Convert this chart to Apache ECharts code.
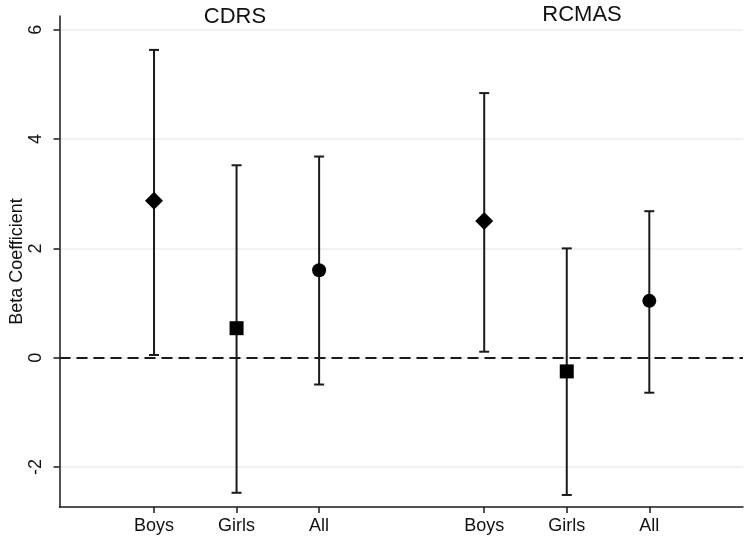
<!DOCTYPE html>
<html>
<head>
<meta charset="utf-8">
<script src="https://cdn.jsdelivr.net/npm/echarts@6/dist/echarts.min.js"></script>
<style>html,body{margin:0;padding:0;background:#fff}#c{width:752px;height:545px}</style>
</head>
<body>
<div id="c"></div>
<script>
// ---- data ----
const groups = ['CDRS', 'RCMAS'];
const categories = ['Boys', 'Girls', 'All'];
const cdrsEst  = [2.87, 0.54, 1.60];
const cdrsLow  = [0.05, -2.47, -0.49];
const cdrsHigh = [5.63, 3.52, 3.68];
const rcmasEst  = [2.50, -0.25, 1.04];
const rcmasLow  = [0.11, -2.51, -0.64];
const rcmasHigh = [4.84, 2.00, 2.68];
const yTicks = [-2, 0, 2, 4, 6];

const estimates = [cdrsEst, rcmasEst];
const lows = [cdrsLow, rcmasLow];
const highs = [cdrsHigh, rcmasHigh];
const symbols = ['diamond', 'rect', 'circle'];
const symbolSizes = [[18, 18], 14, 14];

const xPos = (g, c) => g * 4 + c + 1;
const xTickVals = [];
const xTickNames = {};
const barData = [];
const pointData = [];
groups.forEach((g, gi) => {
  categories.forEach((c, ci) => {
    const x = xPos(gi, ci);
    xTickVals.push(x);
    xTickNames[x] = c;
    barData.push([x, lows[gi][ci], highs[gi][ci]]);
    pointData.push({ value: [x, estimates[gi][ci]], symbol: symbols[ci], symbolSize: symbolSizes[ci] });
  });
});

const FONT = 'Liberation Sans, Arial, Helvetica, sans-serif';
const INK = '#1a1a1a';

const chart = echarts.init(document.getElementById('c'), null, { renderer: 'canvas' });
chart.setOption({
  animation: false,
  backgroundColor: '#ffffff',
  grid: { left: 59.5, right: 9, top: 16, bottom: 38, containLabel: false, outerBoundsMode: 'none' },
  xAxis: {
    type: 'value',
    min: -0.145,
    max: 8.135,
    axisLine: { show: true, onZero: false, lineStyle: { color: INK, width: 1.5 } },
    axisTick: { show: true, length: 6, customValues: xTickVals, lineStyle: { color: INK, width: 1.5 } },
    axisLabel: {
      show: true, customValues: xTickVals, margin: 10,
      fontSize: 18, fontFamily: FONT, color: '#111',
      formatter: v => xTickNames[v] || ''
    },
    splitLine: { show: false }
  },
  yAxis: {
    type: 'value',
    min: -2.73,
    max: 6.25,
    name: 'Beta Coefficient',
    nameLocation: 'middle',
    nameRotate: 90,
    nameGap: 33,
    nameMoveOverlap: false,
    nameTextStyle: { fontSize: 18, fontFamily: FONT, color: '#111' },
    axisLine: { show: true, onZero: false, lineStyle: { color: INK, width: 1.5 } },
    axisTick: { show: true, length: 6, customValues: yTicks, lineStyle: { color: INK, width: 1.5 } },
    axisLabel: {
      show: true, customValues: yTicks, rotate: 90, margin: 14,
      fontSize: 18, fontFamily: FONT, color: '#111'
    },
    splitLine: { show: true, lineStyle: { color: '#e6eff1', width: 1.5 } }
  },
  graphic: [
    { type: 'text', x: 235, y: 17, style: { text: groups[0], fontSize: 22, fontFamily: FONT, fill: '#111', textAlign: 'center', textVerticalAlign: 'middle' } },
    { type: 'text', x: 582, y: 15, style: { text: groups[1], fontSize: 22, fontFamily: FONT, fill: '#111', textAlign: 'center', textVerticalAlign: 'middle' } }
  ],
  series: [
    {
      type: 'custom',
      data: barData,
      z: 2,
      renderItem: (params, api) => {
        const x = api.value(0);
        const lo = api.coord([x, api.value(1)]);
        const hi = api.coord([x, api.value(2)]);
        const hw = 5;
        const style = { stroke: INK, lineWidth: 2, fill: null };
        return {
          type: 'group',
          children: [
            { type: 'line', shape: { x1: lo[0], y1: lo[1], x2: hi[0], y2: hi[1] }, style },
            { type: 'line', shape: { x1: hi[0] - hw, y1: hi[1], x2: hi[0] + hw, y2: hi[1] }, style },
            { type: 'line', shape: { x1: lo[0] - hw, y1: lo[1], x2: lo[0] + hw, y2: lo[1] }, style }
          ]
        };
      }
    },
    {
      type: 'scatter',
      data: pointData,
      z: 3,
      itemStyle: { color: '#000', opacity: 1 },
      markLine: {
        silent: true,
        symbol: 'none',
        label: { show: false },
        lineStyle: { color: INK, width: 2, type: [11, 6] },
        data: [{ yAxis: 0 }]
      }
    }
  ]
});
</script>
</body>
</html>
